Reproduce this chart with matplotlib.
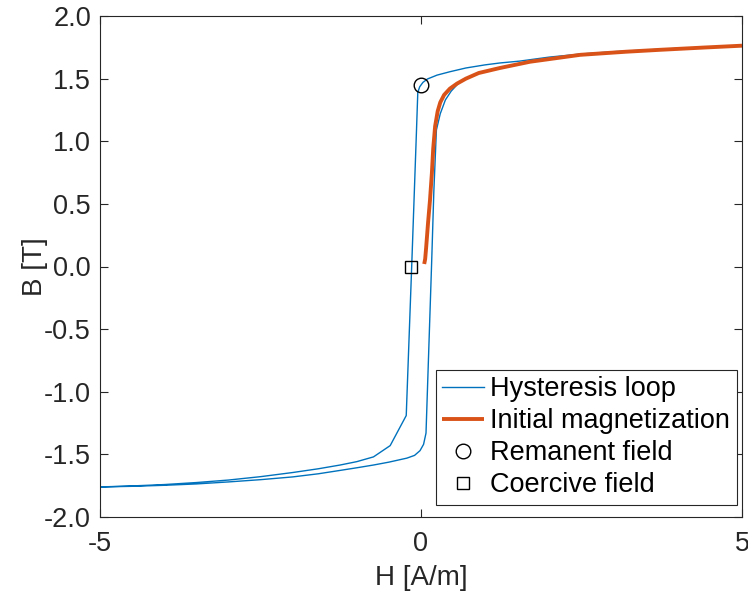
import matplotlib
matplotlib.use("Agg")
import matplotlib.pyplot as plt

plt.rcParams['font.family'] = ['Liberation Sans', 'DejaVu Sans']

# Descending branch (from +saturation to -saturation)
H_desc = [5.0, 4.0, 3.0, 2.5, 2.0, 1.54, 1.23, 1.0, 0.7, 0.45, 0.25, 0.1, 0.03, -0.02,
          -0.05, -0.07, -0.145, -0.23, -0.48, -0.74, -1.0, -1.26, -1.6, -2.0, -2.5,
          -3.0, -3.5, -4.0, -4.5, -5.0]
B_desc = [1.763, 1.742, 1.715, 1.697, 1.672, 1.64, 1.625, 1.61, 1.585, 1.555, 1.528,
          1.497, 1.47, 1.435, 1.39, 1.09, 0.0, -1.19, -1.43, -1.52, -1.558, -1.585,
          -1.615, -1.645, -1.678, -1.705, -1.725, -1.741, -1.752, -1.76]

# Ascending branch (from -saturation to +saturation)
H_asc = [-5.0, -4.5, -4.0, -3.5, -3.0, -2.5, -2.0, -1.6, -1.26, -1.0, -0.74, -0.5,
         -0.22, -0.1, -0.015, 0.04, 0.078, 0.167, 0.2, 0.24, 0.3, 0.38, 0.47, 0.56,
         0.66, 0.9, 1.23, 1.7, 2.48, 3.2, 3.72, 4.4, 5.0]
B_asc = [-1.76, -1.755, -1.747, -1.736, -1.72, -1.702, -1.68, -1.655, -1.628, -1.607,
         -1.585, -1.562, -1.53, -1.508, -1.47, -1.42, -1.33, 0.05, 0.6, 1.09, 1.22,
         1.33, 1.40, 1.45, 1.495, 1.545, 1.585, 1.635, 1.69, 1.715, 1.73, 1.748, 1.763]

# Initial magnetization curve
H_init = [0.05, 0.065, 0.08, 0.11, 0.14, 0.17, 0.19, 0.22, 0.26, 0.30, 0.36, 0.45,
          0.56, 0.7, 0.9, 1.23, 1.7, 2.48, 3.2, 3.72, 4.4, 5.0]
B_init = [0.02, 0.06, 0.15, 0.35, 0.53, 0.75, 0.94, 1.12, 1.24, 1.31, 1.37, 1.42,
          1.46, 1.50, 1.545, 1.585, 1.635, 1.69, 1.715, 1.73, 1.748, 1.763]

H_rem, B_rem = [0.0], [1.45]
H_coer, B_coer = [-0.16], [0.0]

x_ticks = [-5, 0, 5]
y_ticks = [-2.0, -1.5, -1.0, -0.5, 0.0, 0.5, 1.0, 1.5, 2.0]
y_ticklabels = ['-2.0', '-1.5', '-1.0', '-0.5', '0.0', '0.5', '1.0', '1.5', '2.0']

blue = '#0072BD'
orange = '#D95319'
axc = '#262626'

fig = plt.figure(figsize=(7.48, 5.94), dpi=100)
ax = fig.add_axes([100/748, 77/594, 642/748, 501/594])

ax.plot(H_desc + H_asc, B_desc + B_asc, color=blue, lw=1.0, label='Hysteresis loop')
ax.plot(H_init, B_init, color=orange, lw=2.8, label='Initial magnetization',
        solid_capstyle='butt')
ax.plot(H_rem, B_rem, 'o', mfc='none', mec='black', ms=10.5, mew=1.0,
        label='Remanent field', linestyle='none')
ax.plot(H_coer, B_coer, 's', mfc='none', mec='black', ms=8, mew=1.0,
        label='Coercive field', linestyle='none')

ax.set_xlim(-5, 5)
ax.set_ylim(-2, 2)
ax.set_xticks(x_ticks)
ax.set_xticklabels([str(v) for v in x_ticks])
ax.set_yticks(y_ticks)
ax.set_yticklabels(y_ticklabels)
ax.tick_params(direction='in', top=True, right=True, length=6, width=0.8,
               colors=axc, labelsize=19.5, labelcolor=axc)
ax.tick_params(axis='x', pad=10)
ax.tick_params(axis='y', pad=6.5)
for s in ax.spines.values():
    s.set_color(axc)
    s.set_linewidth(0.8)

ax.set_xlabel('H [A/m]', fontsize=20, color=axc, va='center')
ax.xaxis.set_label_coords(0.5, (517 - 578) / 501)
ax.set_ylabel('B [T]', fontsize=20, color=axc, va='center')
ax.yaxis.set_label_coords((35 - 100) / 642, 0.5)

leg = ax.legend(loc='lower right', bbox_to_anchor=((737 - 100) / 642, (517 - 505) / 501),
                fontsize=19.5, frameon=True, fancybox=False, framealpha=1,
                edgecolor=axc, borderpad=0.25, labelspacing=0.22, handlelength=1.55,
                handletextpad=0.22, borderaxespad=0.0)
leg.get_frame().set_linewidth(0.8)

fig.savefig('out.png', dpi=100)
